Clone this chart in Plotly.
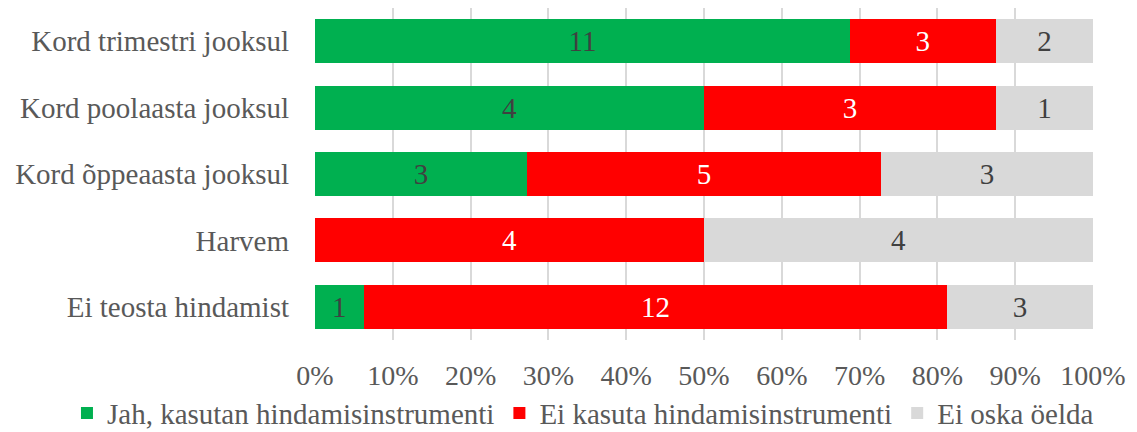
import plotly.graph_objects as go

categories = ["Kord trimestri jooksul", "Kord poolaasta jooksul", "Kord õppeaasta jooksul", "Harvem", "Ei teosta hindamist"]
series_names = ["Jah, kasutan hindamisinstrumenti", "Ei kasuta hindamisinstrumenti", "Ei oska öelda"]
jah = [11, 4, 3, 0, 1]
ei = [3, 3, 5, 4, 12]
ei_oska = [2, 1, 3, 4, 3]
tick_vals = [0, 10, 20, 30, 40, 50, 60, 70, 80, 90, 100]
tick_labels = ["0%", "10%", "20%", "30%", "40%", "50%", "60%", "70%", "80%", "90%", "100%"]

colors = ["#00B050", "#FF0000", "#D9D9D9"]
text_colors = ["#404040", "#FFFFFF", "#404040"]
FONT = "Liberation Serif"

fig = go.Figure()
for name, vals, c, tc in zip(series_names, [jah, ei, ei_oska], colors, text_colors):
    fig.add_trace(go.Bar(
        y=categories, x=vals, name=name, orientation="h",
        marker=dict(color=c, line=dict(width=0)),
        text=[str(v) if v else "" for v in vals],
        textposition="inside", insidetextanchor="middle",
        textfont=dict(family=FONT, size=29, color=tc),
        constraintext="none",
    ))

fig.update_layout(
    barmode="stack", barnorm="percent", bargap=0.34,
    width=1129, height=424,
    margin=dict(l=307, r=44, t=0, b=92, autoexpand=False),
    paper_bgcolor="white", plot_bgcolor="white",
    font=dict(family=FONT, color="#595959", size=29),
    showlegend=True,
    legend=dict(orientation="h", x=-0.3188, xanchor="left", xref="paper",
                y=-0.22, yanchor="middle", yref="paper",
                font=dict(family=FONT, size=29, color="#595959"),
                traceorder="normal", itemwidth=30, itemclick=False),
    uniformtext=dict(mode="show", minsize=10),
)
fig.update_xaxes(range=[0, 100], tickvals=tick_vals, ticktext=tick_labels,
                 showgrid=True, gridcolor="#D9D9D9", gridwidth=1.5,
                 zeroline=False, showline=False, ticks="", ticklabelstandoff=16,
                 tickfont=dict(family=FONT, size=28, color="#595959"), fixedrange=True)
fig.update_yaxes(categoryorder="array", categoryarray=categories, autorange="reversed",
                 showgrid=False, showline=False, ticks="", ticklabelstandoff=25,
                 tickfont=dict(family=FONT, size=29, color="#595959"))

fig.write_html("out.html")
